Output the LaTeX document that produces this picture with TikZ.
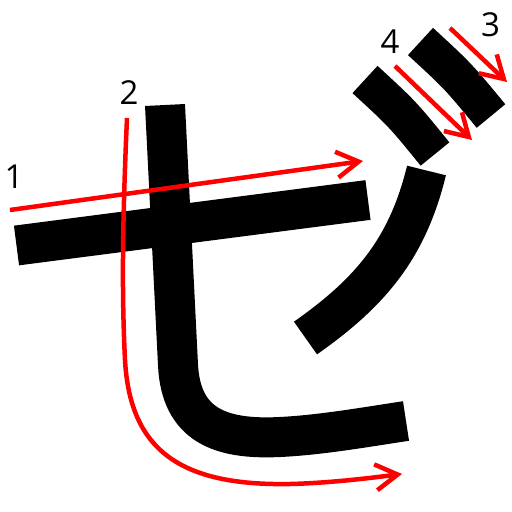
\documentclass[tikz,border=0pt]{standalone}
\usepackage{fontspec}
\setmainfont{Open Sans}
\usetikzlibrary{arrows.meta}
\tikzset{
  brush/.style={line width=40pt, line cap=butt, black},
  dot/.style={line width=37pt, line cap=butt, black},
  order/.style={red, line width=4.5pt, -{Straight Barb[length=22pt,width=26pt,line width=4.5pt]}},
  num/.style={inner sep=0pt, font=\fontsize{33}{33}\selectfont}
}
\begin{document}
\begin{tikzpicture}[x=1pt,y=-1pt]
\useasboundingbox (0,0) rectangle (512,512);
% strokes
\draw[brush] (16.5,245.5) -- (368,200);
\draw[brush] (165,105) -- (178,365) .. controls (181,425) and (220,440) .. (280,437) .. controls (320,435) and (360,428) .. (406,421);
\draw[brush] (426.5,170.5) .. controls (407.6,248) and (371,292) .. (305.5,338);
\draw[dot] (420.5,41.5) .. controls (458,76) .. (491,116);
\draw[dot] (365,79.5) .. controls (402.5,114) .. (435,154);
% order arrows
\coordinate (a1s) at (10,210);
\coordinate (a1e) at (363,161);
\coordinate (a2s) at (127,118);
\coordinate (a2e) at (402,474);
\coordinate (a3s) at (450,28);
\coordinate (a3e) at (507,82);
\coordinate (a4s) at (395,66);
\coordinate (a4e) at (472,140);
\draw[order] (a1s) -- (a1e);
\draw[order] (a2s) .. controls (122,230) and (122,300) .. (125,360) .. controls (130,450) and (180,486) .. (290,484) .. controls (330,483) and (370,478) .. (a2e);
\draw[order] (a3s) -- (a3e);
\draw[order] (a4s) -- (a4e);
% numbers
\node[num] (n1) at (14,176.5) {1};
\node[num] (n2) at (129,92.5) {2};
\node[num] (n3) at (490.5,25) {3};
\node[num] (n4) at (390,41.5) {4};
\end{tikzpicture}
\end{document}
